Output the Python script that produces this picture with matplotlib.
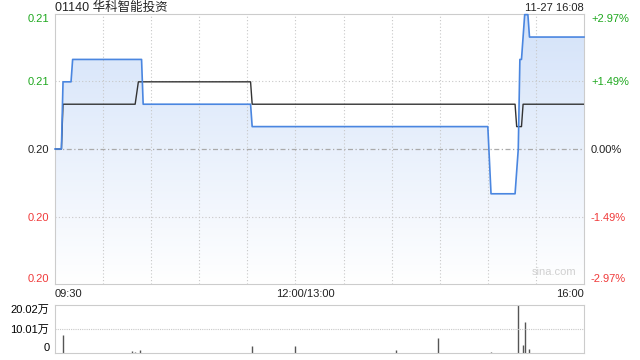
import numpy as np
import matplotlib
matplotlib.use("Agg")
import matplotlib.pyplot as plt
from matplotlib.colors import LinearSegmentedColormap
from matplotlib.patches import Polygon

plt.rcParams['font.family'] = ['Liberation Sans', 'Noto Sans CJK SC', 'DejaVu Sans']

# minutes since 09:30 (lunch break removed: 330 trading minutes)
price_t = [0, 4, 5, 10, 11, 54, 55, 122, 123, 270, 272, 287, 289, 290, 291, 293, 295, 296, 330]
price_v = [0.203, 0.203, 0.206, 0.206, 0.207, 0.207, 0.205, 0.205, 0.204, 0.204, 0.201,
           0.201, 0.203, 0.207, 0.207, 0.209, 0.209, 0.208, 0.208]
avg_t = [0, 4, 5, 50, 52, 122, 123, 287, 288, 291, 292, 330]
avg_v = [0.203, 0.203, 0.205, 0.205, 0.206, 0.206, 0.205, 0.205, 0.204, 0.204, 0.205, 0.205]
vol_t = [5, 48, 50, 53, 123, 150, 213, 239, 272, 289, 292, 293, 296, 319]
vol_v = [75400, 6600, 3000, 10700, 30000, 30000, 13600, 61800, 5000, 199000, 34000, 127700, 16500, 2000]

prev_close = 0.203
pct_ticks = [2.97, 1.49, 0.0, -1.49, -2.97]
pct_labels = ["+2.97%", "+1.49%", "0.00%", "-1.49%", "-2.97%"]
price_labels = ["0.21", "0.21", "0.20", "0.20", "0.20"]
vol_ticks = [0, 100100, 200200]
vol_labels = ["0", "10.01万", "20.02万"]

GREEN, RED, BLACK = "#1ea81e", "#f03a3a", "#222222"
GRID = "#c8c8c8"

fig = plt.figure(figsize=(6.4, 3.6), dpi=100)
ax = fig.add_axes([55/640, 1-284/360, 529/640, 270/360])
axv = fig.add_axes([55/640, 1-353/360, 529/640, 48/360])

ylo = prev_close * (1 - 0.0297)
yhi = prev_close * (1 + 0.0297)
ax.set_xlim(0, 330)
ax.set_ylim(ylo, yhi)

# gradient fill under price line
cmap = LinearSegmentedColormap.from_list("g", ["#ffffff", "#d3e2f9"])
grad = np.linspace(0, 1, 256).reshape(-1, 1)
im = ax.imshow(grad, extent=[0, 330, ylo, yhi], origin="lower", aspect="auto",
               cmap=cmap, zorder=1)
verts = list(zip(price_t, price_v)) + [(330, ylo), (0, ylo)]
patch = Polygon(verts, closed=True, facecolor="none", edgecolor="none")
ax.add_patch(patch)
im.set_clip_path(patch)

ax.plot(price_t, price_v, color="#4a86e0", lw=1.2, zorder=4, clip_on=False)
ax.plot(avg_t, avg_v, color="#333333", lw=1.0, zorder=3)

# grid
for m in range(30, 330, 30):
    ax.axvline(m, color=GRID, ls=(0, (1, 2)), lw=0.8, zorder=2)
ytick_vals = [prev_close * (1 + p / 100) for p in pct_ticks]
for p, v in zip(pct_ticks, ytick_vals):
    if p == 0:
        ax.axhline(v, color="#aaaaaa", ls=(0, (4, 2, 1, 2)), lw=0.9, zorder=2)
    elif abs(p) < 2:
        ax.axhline(v, color=GRID, ls=(0, (1, 2)), lw=0.8, zorder=2)
for s in ax.spines.values():
    s.set_color("#cccccc")
ax.set_xticks([])
ax.set_yticks(ytick_vals)
ax.set_yticklabels(price_labels, fontsize=8)
ax.tick_params(axis="y", length=0, pad=4)
ax2 = ax.twinx()
ax2.set_ylim(ylo, yhi)
ax2.set_yticks(ytick_vals)
ax2.set_yticklabels(pct_labels, fontsize=8)
ax2.tick_params(axis="y", length=0, pad=5)
for a in (ax, ax2):
    for i, (lab, p) in enumerate(zip(a.get_yticklabels(), pct_ticks)):
        lab.set_color(GREEN if p > 0 else (RED if p < 0 else BLACK))
        if i == 0:
            lab.set_va("top")
        elif i == len(pct_ticks) - 1:
            lab.set_va("bottom")
for s in ax2.spines.values():
    s.set_visible(False)

ax.text(325, ylo + 0.0003, "sina.com", color="#d0d0d0", fontsize=8, ha="right", va="bottom")

fig.text(55/640, 1-8/360, "01140 华科智能投资", fontsize=9, ha="left", va="center", color=BLACK)
fig.text(584/640, 1-8/360, "11-27 16:08", fontsize=8, ha="right", va="center", color=BLACK)
fig.text(55/640, 1-294/360, "09:30", fontsize=8, ha="left", va="center", color=BLACK)
fig.text(305/640, 1-294/360, "12:00/13:00", fontsize=8, ha="center", va="center", color=BLACK)
fig.text(584/640, 1-294/360, "16:00", fontsize=8, ha="right", va="center", color=BLACK)

# volume
axv.vlines(vol_t, 0, vol_v, color="#555555", lw=1.0)
axv.set_xlim(0, 330)
axv.set_ylim(0, 200200)
axv.set_xticks([])
axv.set_yticks(vol_ticks)
axv.set_yticklabels(vol_labels, fontsize=8)
axv.tick_params(axis="y", length=0, pad=4)
vlabs = axv.get_yticklabels()
vlabs[0].set_va("bottom")
vlabs[2].set_va("top")
axv.axhline(100100, color=GRID, ls=(0, (1, 1)), lw=0.8)
axv.spines["top"].set_linestyle((0, (1, 1)))
axv.spines["bottom"].set_linestyle((0, (1, 1)))
for s in axv.spines.values():
    s.set_color("#cccccc")

fig.savefig("out.png", dpi=100)
